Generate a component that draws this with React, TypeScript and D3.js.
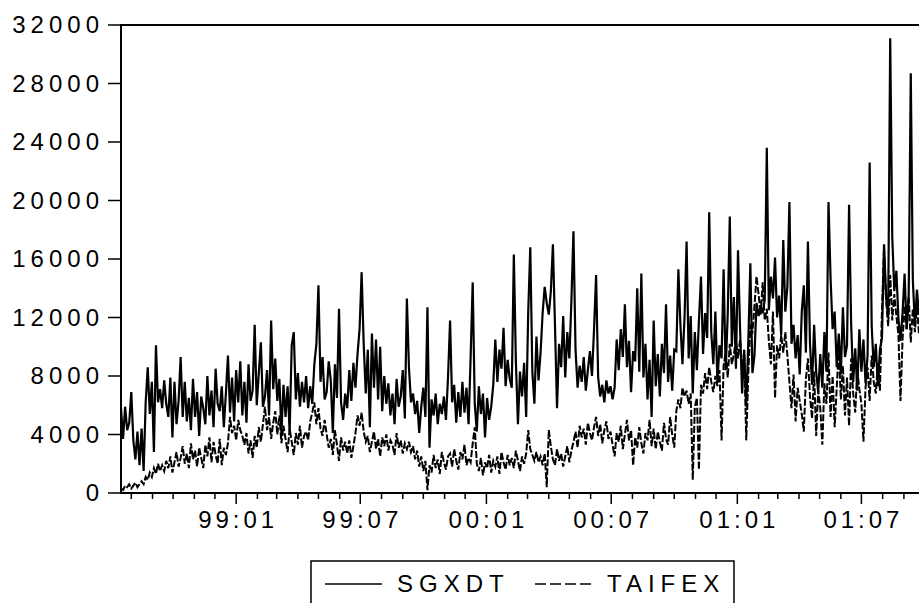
import React, { useEffect, useRef } from 'react'
import * as d3 from 'd3'

const START_DATE = '1998-07-17'
const END_DATE = '2001-09-23'
const STEP_DAYS = 3

const SERIES_NAMES = ['SGXDT', 'TAIFEX']
const Y_TICKS = [0, 4000, 8000, 12000, 16000, 20000, 24000, 28000, 32000]
const X_TICK_LABELS = ['99:01', '99:07', '00:01', '00:07', '01:01', '01:07']

const SGXDT = [
  5800, 3700, 5900, 4300, 4800, 6900, 3600, 2300, 4200, 1900,
  4400, 1500, 6200, 8600, 5400, 7600, 2800, 10100, 6200, 7100,
  5800, 7700, 6100, 5200, 7900, 3800, 7600, 4700, 6300, 9300,
  5200, 7600, 4900, 6500, 4300, 7800, 5200, 6900, 3900, 6600,
  5800, 4700, 8000, 5300, 7000, 4500, 8500, 6100, 5600, 7300,
  4500, 6800, 9400, 5500, 7900, 4900, 8400, 6200, 9000, 5300,
  7600, 4800, 8800, 6300, 7000, 11500, 6000, 8200, 10300, 5900,
  6600, 8400, 5300, 11800, 7100, 9200, 6300, 7800, 4100, 7400,
  5200, 7300, 4200, 10100, 11000, 6400, 8200, 5900, 7600, 6200,
  8000, 5800, 7300, 6100, 8800, 10200, 14200, 7600, 9300, 6400,
  6900, 9000, 7700, 4100, 8800, 6500, 12600, 6200, 5000, 6800,
  5800, 8400, 6300, 8900, 7200, 9500, 11200, 15100, 10200, 6800,
  9800, 4500, 10900, 7200, 10500, 6400, 10000, 5600, 8000, 6100,
  7500, 5300, 6800, 4700, 7800, 5900, 6600, 8400, 5100, 13300,
  8600, 6200, 6800, 5400, 6300, 4100, 5900, 7200, 5200, 12700,
  3100, 6400, 5300, 6800, 4700, 6100, 5400, 6600, 5000, 7900,
  11800, 6200, 7400, 4800, 6900, 5200, 7600, 5500, 7200, 4700,
  9300, 14400, 6100, 4200, 7300, 5400, 6800, 3800, 6500, 5000,
  5900, 7400, 10500, 7600, 9800, 8500, 11300, 7300, 9100, 7800,
  7200, 16300, 9000, 4700, 8300, 6600, 8900, 5200, 12400, 16800,
  8300, 6100, 10700, 7700, 9600, 12300, 14100, 13000, 12200, 13800,
  17000, 11500, 5800, 10200, 8600, 12100, 7900, 11000, 9200, 13200,
  17900, 9800, 7200, 8700, 7600, 9300, 7000, 8400, 9700, 8000,
  11200, 14900, 7900, 6600, 7400, 6200, 7700, 6800, 7300, 6400,
  7200, 10500, 8400, 11200, 9300, 12900, 8600, 10400, 6900, 9700,
  9000, 14000, 8300, 15000, 7900, 10200, 6400, 9100, 5200, 11800,
  7300, 9500, 6600, 10200, 8200, 12900, 7600, 9400, 7000, 9800,
  9700, 15300, 11500, 8800, 12000, 17200, 9200, 12100, 6800, 11000,
  8400, 11800, 14800, 9500, 12300, 10600, 19200, 11000, 8800, 12400,
  7600, 10100, 9200, 15300, 8400, 12200, 18900, 10000, 13400, 8500,
  16600, 11200, 6800, 9800, 5900, 10300, 15700, 8200, 9400, 13000,
  12100, 12800, 12300, 13200, 23600, 12500, 14800, 13300, 16100, 12000,
  13500, 10800, 17300, 12400, 14100, 19900, 10200, 11500, 9200, 10800,
  8100, 12400, 14200, 9600, 17200, 10200, 7400, 11500, 8300, 6900,
  9500, 7200, 11000, 8300, 19900, 14700, 11200, 12400, 8600, 10900,
  8100, 12700, 9300, 10100, 19700, 11600, 7600, 9900, 7000, 11200,
  8300, 10500, 7500, 9400, 22600, 11400, 8600, 10200, 7300, 9800,
  10600, 17000, 13400, 12000, 31100, 17500, 13800, 15200, 11900, 10400,
  12300, 15000, 11200, 13600, 28700, 14600, 11500, 13900, 12200,
]

const TAIFEX = [
  300, 200, 500, 400, 600, 300, 500, 700, 400, 600,
  800, 600, 1100, 900, 1400, 1100, 1700, 1300, 2000, 1500,
  1900, 1500, 2200, 1700, 2500, 1400, 2100, 2800, 1800, 2400,
  3200, 2000, 2700, 1700, 3400, 2300, 2900, 1800, 3100, 2400,
  1700, 3300, 2500, 3800, 2100, 3500, 2600, 2000, 3700, 1900,
  3100, 2600, 3400, 5200, 4100, 4600, 3600, 5000, 4300, 3900,
  3300, 4100, 2700, 3600, 2400, 3900, 3100, 4500, 3500, 4700,
  5900, 4300, 5200, 3700, 4800, 5600, 4000, 5300, 3400, 4600,
  3700, 2800, 4400, 3500, 2600, 4100, 3300, 4600, 3100, 3900,
  4200, 3600, 4900, 5500, 6200, 4700, 5800, 4400, 3900, 5000,
  4000, 3100, 3700, 2600, 4300, 3300, 2200, 3800, 2900, 3500,
  2700, 3600, 2400, 3200, 4100, 5300, 4600, 5500, 4200, 3500,
  3900, 2800, 3500, 4200, 3000, 3700, 2500, 3800, 3200, 4000,
  2900, 3600, 3300, 2600, 4100, 3100, 3600, 2700, 3400, 3000,
  3500, 2800, 3200, 2300, 2900, 1800, 2500, 1500, 2200, 200,
  1900, 1400, 2600, 1700, 2300, 1300, 2800, 2100, 1600, 2500,
  2700, 1800, 3000, 2200, 1600, 2800, 2300, 3300, 1900, 2400,
  2100, 3400, 4500, 2000, 1500, 2400, 1200, 2100, 1700, 2600,
  1400, 2200, 1800, 2500, 1300, 2800, 2100, 1600, 2600, 1900,
  2400, 1700, 2900, 2200, 1500, 2500, 2000, 2700, 4300, 3000,
  2600, 2200, 2800, 2100, 2500, 1900, 2700, 400, 4300, 3200,
  2300, 1900, 3000, 2200, 2700, 1800, 2500, 3200, 2100, 2900,
  3500, 4200, 3100, 4600, 3800, 4400, 3300, 4800, 4100, 3600,
  4500, 5200, 3900, 4700, 3400, 4300, 4900, 3700, 4200, 3300,
  2500, 4100, 3500, 4600, 3000, 4000, 5000, 3600, 4300, 1900,
  3800, 3100, 4500, 3400, 2700, 4100, 3600, 5000, 3200, 4400,
  3000, 4200, 3500, 2900, 4800, 3700, 3300, 5200, 4000, 3100,
  5600, 6400, 5800, 7200, 6600, 7000, 6100, 6800, 900, 5900,
  6500, 1600, 7400, 6800, 8200, 7100, 8600, 7600, 6900, 8000,
  7300, 8400, 3600, 8700, 9600, 7900, 10200, 8800, 9500, 10500,
  9200, 10500, 8300, 9700, 3600, 8100, 11500, 10900, 12800, 14800,
  13600, 12200, 14400, 11800, 12600, 10400, 8800, 12400, 6500, 10100,
  9200, 10800, 9600, 11000, 9400, 7600, 5800, 8100, 4900, 7200,
  6300, 5400, 4200, 7800, 9200, 6600, 5100, 8300, 3900, 7000,
  5800, 3300, 7500, 6100, 9600, 5200, 8000, 4500, 7200, 9900,
  6400, 8700, 5300, 7900, 4600, 9200, 6800, 5500, 8400, 7100,
  6100, 3500, 7200, 8600, 6300, 9400, 7600, 6800, 8900, 7000,
  12500, 16800, 13200, 11400, 14900, 11800, 13600, 12100, 10800, 6300,
  10500, 12800, 11200, 13400, 10300, 12600, 11000, 12900, 10800,
]

const FONT = '"Liberation Sans", Arial, sans-serif'

export default function App() {
  const svgRef = useRef<SVGSVGElement>(null)

  useEffect(() => {
    const width = 919, height = 603
    const left = 121, top = 25, plotRight = 919, bottom = 493

    const parse = d3.timeParse('%Y-%m-%d')
    const start = parse(START_DATE) as Date
    const end = parse(END_DATE) as Date

    const x = d3.scaleTime().domain([start, end]).range([left, plotRight])
    const y = d3.scaleLinear().domain([0, 32000]).range([bottom, top])

    const svg = d3.select(svgRef.current)
    svg.selectAll('*').remove()
    svg.attr('width', width).attr('height', height)

    svg.append('rect').attr('width', width).attr('height', height).attr('fill', '#fff')

    svg.append('clipPath').attr('id', 'plot-clip')
      .append('rect')
      .attr('x', left).attr('y', top - 1)
      .attr('width', plotRight - left).attr('height', bottom - top + 1)

    const dateAt = (i: number) => d3.timeDay.offset(start, i * STEP_DAYS)
    const line = d3.line<number>()
      .x((d, i) => x(dateAt(i)))
      .y(d => y(d))

    const plot = svg.append('g').attr('clip-path', 'url(#plot-clip)')

    plot.append('path')
      .datum(TAIFEX)
      .attr('fill', 'none')
      .attr('stroke', '#000')
      .attr('stroke-width', 2)
      .attr('stroke-dasharray', '7,2')
      .attr('d', line)

    plot.append('path')
      .datum(SGXDT)
      .attr('fill', 'none')
      .attr('stroke', '#000')
      .attr('stroke-width', 2.2)
      .attr('d', line)

    // frame: left, top and bottom (right side is cut off by the picture)
    svg.append('path')
      .attr('d', `M${width + 10},${top}H${left}V${bottom}H${width + 10}`)
      .attr('fill', 'none')
      .attr('stroke', '#000')
      .attr('stroke-width', 2)

    // y axis
    const yAxis = svg.append('g')
    yAxis.selectAll('line')
      .data(Y_TICKS)
      .enter().append('line')
      .attr('x1', 108).attr('x2', left)
      .attr('y1', d => y(d)).attr('y2', d => y(d))
      .attr('stroke', '#000').attr('stroke-width', 1.5)
    yAxis.selectAll('text')
      .data(Y_TICKS)
      .enter().append('text')
      .attr('x', 104)
      .attr('y', d => y(d) + 8)
      .attr('text-anchor', 'end')
      .style('font', `24px ${FONT}`)
      .style('letter-spacing', '5px')
      .text(d => String(d))

    // x axis: monthly ticks, labels every six months
    const labelParse = d3.timeParse('%y:%m')
    const fmt = d3.timeFormat('%y:%m')
    const months = d3.timeMonth.range(d3.timeMonth.ceil(start), end)
    const xAxis = svg.append('g')
    xAxis.selectAll('line')
      .data(months)
      .enter().append('line')
      .attr('x1', d => x(d)).attr('x2', d => x(d))
      .attr('y1', bottom)
      .attr('y2', d => X_TICK_LABELS.includes(fmt(d)) ? bottom + 11 : bottom + 6)
      .attr('stroke', '#000').attr('stroke-width', 1.5)
    xAxis.selectAll('text')
      .data(X_TICK_LABELS)
      .enter().append('text')
      .attr('x', d => x(labelParse(d) as Date) + 2)
      .attr('y', 528)
      .attr('text-anchor', 'middle')
      .style('font', `24px ${FONT}`)
      .style('letter-spacing', '4px')
      .text(d => d)

    // legend
    const legend = svg.append('g')
    legend.append('rect')
      .attr('x', 311).attr('y', 561)
      .attr('width', 423).attr('height', 80)
      .attr('fill', '#fff').attr('stroke', '#000').attr('stroke-width', 1.5)
    const items = [
      { name: SERIES_NAMES[0], x0: 325, dash: null },
      { name: SERIES_NAMES[1], x0: 535, dash: '11,4' },
    ]
    items.forEach(it => {
      legend.append('line')
        .attr('x1', it.x0).attr('x2', it.x0 + 57)
        .attr('y1', 584).attr('y2', 584)
        .attr('stroke', '#000').attr('stroke-width', 1.5)
        .attr('stroke-dasharray', it.dash)
      legend.append('text')
        .attr('x', it.x0 + 72).attr('y', 592)
        .style('font', `24px ${FONT}`)
        .style('letter-spacing', '6px')
        .text(it.name)
    })
  }, [])

  return <svg ref={svgRef} style={{ position: 'absolute', left: 0, top: 0, display: 'block' }} />
}
